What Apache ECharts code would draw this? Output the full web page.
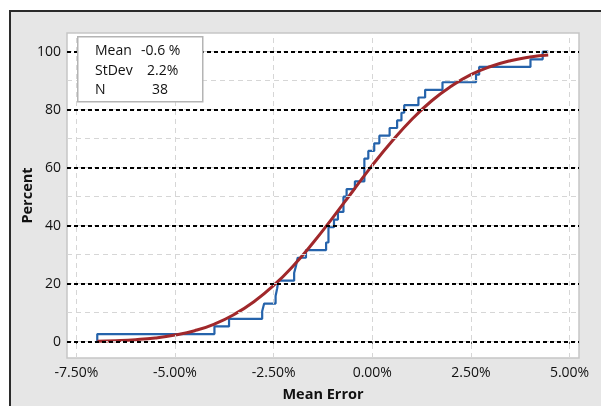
<!DOCTYPE html>
<html>
<head>
<meta charset="UTF-8">
<title>Empirical CDF - Mean Error</title>
<script src="https://cdn.jsdelivr.net/npm/echarts@6/dist/echarts.min.js"></script>
<style>
  html, body { margin: 0; padding: 0; background: #fff; }
  #main { width: 601px; height: 406px; }
</style>
</head>
<body>
<div id="main"></div>
<script>
// sorted mean errors (%)
var errorValues = [
  -6.97, -4.00, -3.63, -2.79, -2.74, -2.45, -2.41, -2.38, -1.98, -1.93,
  -1.89, -1.68, -1.17, -1.11, -1.11, -0.97, -0.87, -0.73, -0.73, -0.65,
  -0.44, -0.20, -0.20, -0.20, -0.10, 0.05, 0.18, 0.44, 0.63, 0.74,
  0.81, 1.17, 1.34, 1.78, 2.63, 2.71, 4.01, 4.32
];
// fitted curve
var fitX   = [-6.97, -6.5, -6, -5.5, -5, -4.5, -4, -3.5, -3, -2.5, -2, -1.5, -1, -0.5, 0, 0.5, 1, 1.5, 2, 2.5, 3, 3.5, 4, 4.46];
var fitPct = [0.19, 0.37, 0.71, 1.3, 2.3, 3.8, 6.1, 9.4, 13.8, 19.4, 26.2, 34.1, 42.8, 51.8, 60.8, 69.1, 76.6, 83.0, 88.1, 92.1, 94.9, 96.9, 98.2, 98.9];

var xTicks = [-7.5, -5, -2.5, 0, 2.5, 5];
var yTicks = [0, 20, 40, 60, 80, 100];
var yMinor = [10, 30, 50, 70, 90];

var statLabels = ['Mean', 'StDev', 'N'];
var statValues = ['-0.6 %', '2.2%', '38'];

var N = errorValues.length;
var ecdf = [[errorValues[0], 0]];
errorValues.forEach(function (v, i) {
  ecdf.push([v, (i + 1) / N * 100]);
});
ecdf.push([fitX[fitX.length - 1], 100]);

var fitData = fitX.map(function (x, i) { return [x, fitPct[i]]; });

var font = '"Open Sans", "Noto Sans", sans-serif';
var txt = '#111';

var chart = echarts.init(document.getElementById('main'));

var gridLines = [];
xTicks.forEach(function (x) { gridLines.push({ xAxis: x }); });
yMinor.concat(yTicks).forEach(function (y) { gridLines.push({ yAxis: y }); });

var statGraphics = [{
  type: 'rect', left: 77, top: 36, z: 10,
  shape: { width: 125, height: 65 },
  style: { fill: '#fff', stroke: '#b4b4b4', lineWidth: 1.5 }
}];
var rowY = [51.5, 71, 90.5];
var valX = [141, 147, 152];
statLabels.forEach(function (s, i) {
  statGraphics.push({
    type: 'text', x: 95, y: rowY[i], z: 11,
    style: { text: s, fill: txt, font: '500 14px ' + font, verticalAlign: 'middle' }
  });
  statGraphics.push({
    type: 'text', x: valX[i], y: rowY[i], z: 11,
    style: { text: statValues[i], fill: txt, font: '500 14px ' + font, verticalAlign: 'middle' }
  });
});

var option = {
  animation: false,
  backgroundColor: '#fff',
  graphic: [{
    type: 'rect', left: 9, top: 10, z: -10,
    shape: { width: 700, height: 500 },
    style: { fill: '#e6e6e6', stroke: '#2b2b2b', lineWidth: 2 }
  }].concat(statGraphics),
  grid: {
    left: 67, right: 22, top: 33, bottom: 48,
    outerBoundsMode: 'none',
    show: true, backgroundColor: '#fff', borderColor: '#c6c6c6', borderWidth: 1.5
  },
  xAxis: {
    type: 'value', min: -7.737, max: 5.24,
    name: 'Mean Error', nameLocation: 'middle', nameGap: 29, nameMoveOverlap: false,
    nameTextStyle: { fontFamily: font, fontWeight: 'bold', fontSize: 14.5, color: txt },
    axisLine: { show: false },
    axisTick: { show: true, length: 5, customValues: xTicks, lineStyle: { color: '#666' } },
    axisLabel: {
      customValues: xTicks, margin: 8, fontFamily: font, fontWeight: 500, fontSize: 14, color: txt,
      formatter: function (v) { return v.toFixed(2) + '%'; }
    },
    splitLine: { show: false }
  },
  yAxis: {
    type: 'value', min: -5.62, max: 106.45,
    name: 'Percent', nameLocation: 'middle', nameGap: 32, nameMoveOverlap: false,
    nameTextStyle: { fontFamily: font, fontWeight: 'bold', fontSize: 14.5, color: txt },
    axisLine: { show: false },
    axisTick: { show: true, length: 5, customValues: yTicks, lineStyle: { color: '#666' } },
    axisLabel: { customValues: yTicks, margin: 6, fontFamily: font, fontWeight: 500, fontSize: 14, color: txt },
    splitLine: { show: false }
  },
  series: [
    {
      type: 'line', data: [], z: 1, silent: true,
      markLine: {
        silent: true, symbol: 'none', label: { show: false },
        lineStyle: { color: '#d6d6d6', type: [5, 4], width: 1 },
        data: gridLines
      }
    },
    {
      type: 'line', data: [], z: 2, silent: true,
      markLine: {
        silent: true, symbol: 'none', label: { show: false },
        lineStyle: { color: '#000', type: [4, 3], width: 2 },
        data: yTicks.map(function (y) { return { yAxis: y }; })
      }
    },
    {
      name: 'Empirical', type: 'line', step: 'end', data: ecdf, z: 3,
      showSymbol: false, lineStyle: { color: '#2563ab', width: 2.2 }
    },
    {
      name: 'Normal fit', type: 'line', smooth: true, data: fitData, z: 4,
      showSymbol: false, lineStyle: { color: '#a0282b', width: 3 }
    }
  ]
};

chart.setOption(option);
</script>
</body>
</html>
